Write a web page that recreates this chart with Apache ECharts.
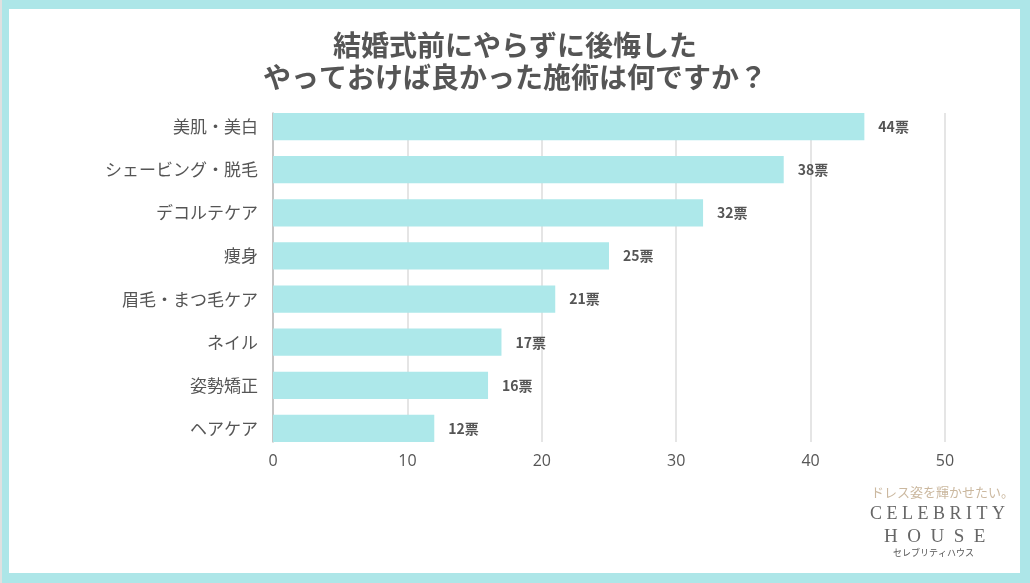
<!DOCTYPE html>
<html><head><meta charset="utf-8">
<script src="https://cdn.jsdelivr.net/npm/echarts@6/dist/echarts.min.js"></script>
<style>
html,body{margin:0;padding:0;width:1030px;height:583px;overflow:hidden;background:#ade6e8;}
#frame{position:absolute;left:9px;top:9px;width:1011px;height:564px;background:#fff;}
#edge{position:absolute;left:0;top:0;width:2px;height:583px;background:#e0e0e0;}
#chart{position:absolute;left:0;top:0;width:1030px;height:583px;}
</style></head>
<body>
<div id="edge"></div>
<div id="frame"></div>
<div id="chart"></div>
<script>
const categories = ['美肌・美白','シェービング・脱毛','デコルテケア','痩身','眉毛・まつ毛ケア','ネイル','姿勢矯正','ヘアケア'];
const values = [44, 38, 32, 25, 21, 17, 16, 12];
const xTicks = [0, 10, 20, 30, 40, 50];
const titleLines = ['結婚式前にやらずに後悔した', 'やっておけば良かった施術は何ですか？'];
const unit = '票';

const chart = echarts.init(document.getElementById('chart'), null, {renderer:'canvas'});
const font = '"Noto Sans CJK JP","Noto Sans",sans-serif';
const serif = '"Liberation Serif","DejaVu Serif",serif';
const xMin = xTicks[0], xMax = xTicks[xTicks.length-1];
chart.setOption({
  animation:false,
  backgroundColor:'transparent',
  title:{
    text: titleLines.join('\n'),
    left:'center', top:24,
    textStyle:{fontFamily:font, fontSize:28, fontWeight:'bold', color:'#555', lineHeight:32}
  },
  grid:[
    {left:273, right:85, top:105, bottom:133, containLabel:false},
    {left:273, right:85, top:113, bottom:141, containLabel:false}
  ],
  xAxis:[
    {
      gridIndex:0, type:'value', min:xMin, max:xMax, interval:10,
      axisLine:{show:false}, axisTick:{show:false}, splitLine:{show:false},
      axisLabel:{fontFamily:'"Open Sans",sans-serif', fontSize:16, color:'#555', margin:3}
    },
    {
      gridIndex:1, type:'value', min:xMin, max:xMax, interval:10,
      axisLine:{show:false}, axisTick:{show:false}, axisLabel:{show:false},
      splitLine:{lineStyle:{color:'#dcdcdc', width:1.5}}
    }
  ],
  yAxis:[
    {
      gridIndex:0, type:'category', data:categories, inverse:true,
      axisLine:{show:false}, axisTick:{show:false}, splitLine:{show:false},
      axisLabel:{fontFamily:font, fontSize:17, color:'#555', margin:15}
    },
    {
      gridIndex:1, type:'value', min:0, max:1,
      axisLine:{show:true, onZero:false, lineStyle:{color:'#bbb', width:1.5}},
      axisTick:{show:false}, axisLabel:{show:false}, splitLine:{show:false}
    }
  ],
  series:[{
    type:'bar', xAxisIndex:0, yAxisIndex:0, data:values, barCategoryGap:'37%',
    itemStyle:{color:'#ade8ea'}, z:3,
    label:{show:true, position:'right', distance:14, formatter: p => p.value + unit,
      fontFamily:font, fontSize:14, fontWeight:'bold', color:'#555'}
  }],
  graphic:[
    {type:'text', left:871, top:486, style:{text:'ドレス姿を輝かせたい。', fontFamily:font, fontSize:13, fill:'#cbb89f'}},
    {type:'text', left:870, top:505, style:{text:'C E L E B R I T Y', fontFamily:serif, fontSize:18, fill:'#666'}},
    {type:'text', left:884, top:528, style:{text:'H  O  U  S  E', fontFamily:serif, fontSize:19, fill:'#666'}},
    {type:'text', left:893, top:548, style:{text:'セレブリティハウス', fontFamily:font, fontSize:9, fill:'#555'}}
  ]
});
</script>
</body></html>
